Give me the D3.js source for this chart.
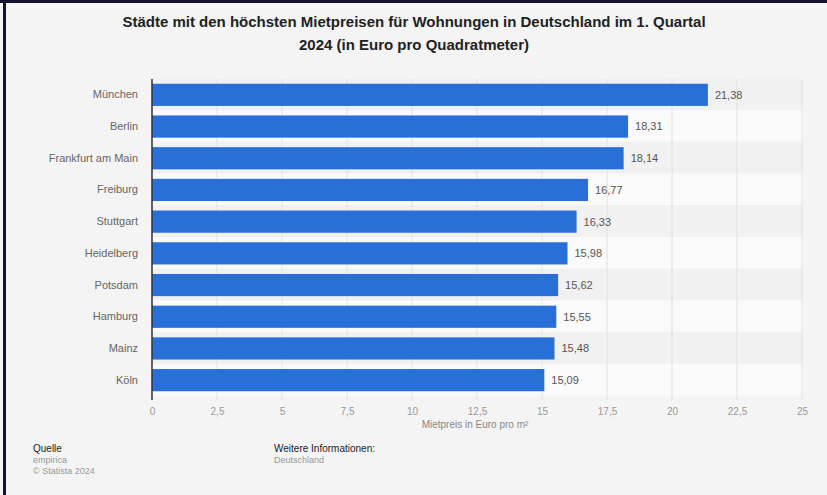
<!DOCTYPE html>
<html>
<head>
<meta charset="utf-8">
<script src="https://cdn.jsdelivr.net/npm/d3@7"></script>
<style>
  body { margin: 0; background: #fff; }
  svg { display: block; font-family: "Liberation Sans", Arial, sans-serif; }
</style>
</head>
<body>
<svg id="chart" width="827" height="495"></svg>
<script>
var cities = ["München", "Berlin", "Frankfurt am Main", "Freiburg", "Stuttgart",
              "Heidelberg", "Potsdam", "Hamburg", "Mainz", "Köln"];
var prices = [21.38, 18.31, 18.14, 16.77, 16.33, 15.98, 15.62, 15.55, 15.48, 15.09];
var xTicks = [0, 2.5, 5, 7.5, 10, 12.5, 15, 17.5, 20, 22.5, 25];

var svg = d3.select("#chart");
var W = 827, H = 495;
var fmt = function(v) { return String(v).replace(".", ","); };

// background + frame
svg.append("rect").attr("width", W).attr("height", H).attr("fill", "#f4f4f4");
svg.append("rect").attr("x", 0).attr("y", 0).attr("width", W).attr("height", 3).attr("fill", "#14132e");
svg.append("rect").attr("x", 3).attr("y", 0).attr("width", 3).attr("height", H).attr("fill", "#14132e");

// title
svg.append("text").attr("x", 414).attr("y", 27).attr("text-anchor", "middle")
  .style("font-size", "15px").style("font-weight", "bold").attr("fill", "#222")
  .text("Städte mit den höchsten Mietpreisen für Wohnungen in Deutschland im 1. Quartal");
svg.append("text").attr("x", 414).attr("y", 50).attr("text-anchor", "middle")
  .style("font-size", "15px").style("font-weight", "bold").attr("fill", "#222")
  .text("2024 (in Euro pro Quadratmeter)");

var x = d3.scaleLinear().domain([0, 25]).range([152, 802]);
var y = d3.scaleBand().domain(cities).range([79, 396]).paddingInner(0.3).paddingOuter(0.15);
var step = y.step();

// alternating row stripes
svg.append("g").selectAll("rect").data(cities).enter().append("rect")
  .attr("x", x(0)).attr("width", x(25) - x(0))
  .attr("y", function(d) { return y(d) - step * 0.3 / 2 - 0.5; })
  .attr("height", step)
  .attr("fill", function(d, i) { return i % 2 ? "#fafafa" : "#f1f1f1"; });

// vertical gridlines
svg.append("g").selectAll("line").data(xTicks.slice(1)).enter().append("line")
  .attr("x1", function(d) { return x(d); }).attr("x2", function(d) { return x(d); })
  .attr("y1", 79).attr("y2", 400)
  .attr("stroke", "#e2e2e2").attr("stroke-width", 1);

// bars
svg.append("g").selectAll("rect").data(prices).enter().append("rect")
  .attr("x", x(0))
  .attr("y", function(d, i) { return y(cities[i]); })
  .attr("width", function(d) { return x(d) - x(0); })
  .attr("height", y.bandwidth())
  .attr("fill", "#2870d8");

// value labels
svg.append("g").selectAll("text").data(prices).enter().append("text")
  .attr("x", function(d) { return x(d) + 7; })
  .attr("y", function(d, i) { return y(cities[i]) + y.bandwidth() / 2; })
  .attr("dy", "0.35em")
  .style("font-size", "11px").attr("fill", "#555")
  .text(fmt);

// y axis
var yAxis = svg.append("g").attr("transform", "translate(" + x(0) + ",0)")
  .call(d3.axisLeft(y).tickSize(0).tickPadding(14));
yAxis.select(".domain").attr("stroke", "#333").attr("stroke-width", 1.5)
  .attr("d", "M0,79V400");
yAxis.selectAll("text").style("font-size", "11px").attr("fill", "#666")
  .style("font-family", "'Liberation Sans', Arial, sans-serif");

// x axis
var xAxis = svg.append("g").attr("transform", "translate(0,401)")
  .call(d3.axisBottom(x).tickValues(xTicks).tickSize(0).tickPadding(7).tickFormat(fmt));
xAxis.select(".domain").remove();
xAxis.selectAll("text").style("font-size", "10px").attr("fill", "#999")
  .style("font-family", "'Liberation Sans', Arial, sans-serif");

svg.append("text").attr("x", 475).attr("y", 428).attr("text-anchor", "middle")
  .style("font-size", "10px").attr("fill", "#888").text("Mietpreis in Euro pro m²");

// footer
svg.append("text").attr("x", 33).attr("y", 452).style("font-size", "10px").attr("fill", "#222").text("Quelle");
svg.append("text").attr("x", 33).attr("y", 463).style("font-size", "9px").attr("fill", "#999").text("empirica");
svg.append("text").attr("x", 33).attr("y", 474).style("font-size", "9px").attr("fill", "#999").text("© Statista 2024");
svg.append("text").attr("x", 274).attr("y", 452).style("font-size", "10px").attr("fill", "#222").text("Weitere Informationen:");
svg.append("text").attr("x", 274).attr("y", 463).style("font-size", "9px").attr("fill", "#999").text("Deutschland");
</script>
</body>
</html>
